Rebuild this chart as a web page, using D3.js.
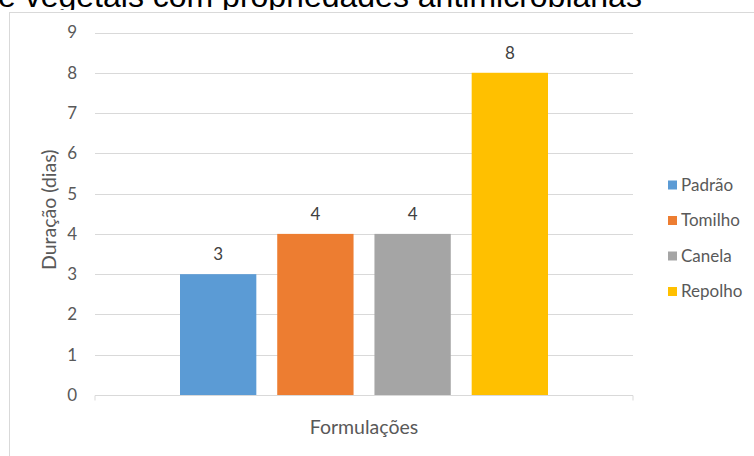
<!DOCTYPE html>
<html>
<head>
<meta charset="utf-8">
<script src="https://cdn.jsdelivr.net/npm/d3@7"></script>
<style>
  body { margin: 0; background: #fff; }
  text { font-family: Lato, "Open Sans", sans-serif; }
</style>
</head>
<body>
<div id="viz-area"></div>
<script>
// data
const CATEGORIES = ["Formulações"];
const SERIES     = ["Padrão", "Tomilho", "Canela", "Repolho"];
const VALUES     = [3, 4, 4, 8];
const COLORS     = ["#5B9BD5", "#ED7D31", "#A5A5A5", "#FFC000"];
const Y_TICKS    = [0, 1, 2, 3, 4, 5, 6, 7, 8, 9];

const W = 754, H = 456;
const PLOT = { LEFT: 95, RIGHT: 633, TOP: 32.5, BOTTOM: 395 };

const svg = d3.select("#viz-area").append("svg")
  .attr("width", W).attr("height", H);

// title above is cut by the picture edge
svg.append("clipPath").attr("id", "titleclip")
  .append("rect").attr("x", 0).attr("y", 0).attr("width", W).attr("height", 10);

svg.append("text")
  .text("e vegetais com propriedades antimicrobianas")
  .attr("x", -2).attr("y", 7)
  .attr("clip-path", "url(#titleclip)")
  .style("font-family", "'Liberation Sans', Arial, sans-serif")
  .style("font-size", "32px")
  .attr("fill", "#000");

// chart frame (runs past the right and bottom edge)
svg.append("rect")
  .attr("x", 9.5).attr("y", 12.5)
  .attr("width", 800).attr("height", 500)
  .attr("fill", "#fff").attr("stroke", "#d9d9d9");

const y = d3.scaleLinear().domain([0, 9]).range([PLOT.BOTTOM, PLOT.TOP]);
const x0 = d3.scaleBand().domain(CATEGORIES).range([PLOT.LEFT, PLOT.RIGHT]);
// group of 4 bars centred in the category
const groupW = 368;
const x1 = d3.scaleBand().domain(SERIES)
  .range([(PLOT.LEFT + PLOT.RIGHT) / 2 - groupW / 2, (PLOT.LEFT + PLOT.RIGHT) / 2 + groupW / 2])
  .paddingInner(0.215);

// gridlines
svg.append("g").selectAll("line")
  .data(Y_TICKS.filter(d => d > 0))
  .enter().append("line")
  .attr("x1", PLOT.LEFT).attr("x2", PLOT.RIGHT)
  .attr("y1", d => Math.round(y(d)) + 0.5).attr("y2", d => Math.round(y(d)) + 0.5)
  .attr("stroke", "#d9d9d9");

// y axis labels
svg.append("g").selectAll("text")
  .data(Y_TICKS)
  .enter().append("text")
  .text(d => d)
  .attr("x", 77).attr("y", d => y(d))
  .attr("dy", "0.35em")
  .attr("text-anchor", "end")
  .style("font-size", "17px")
  .attr("fill", "#595959");

// bars
svg.append("g").selectAll("rect")
  .data(VALUES)
  .enter().append("rect")
  .attr("x", (d, i) => x1(SERIES[i]))
  .attr("width", x1.bandwidth())
  .attr("y", d => y(d))
  .attr("height", d => y(0) - y(d))
  .attr("fill", (d, i) => COLORS[i]);

// value labels
svg.append("g").selectAll("text")
  .data(VALUES)
  .enter().append("text")
  .text(d => d)
  .attr("x", (d, i) => x1(SERIES[i]) + x1.bandwidth() / 2)
  .attr("y", d => y(d) - 20)
  .attr("dy", "0.35em")
  .attr("text-anchor", "middle")
  .style("font-size", "17px")
  .attr("fill", "#404040");

// x axis line with end ticks
const ax = Math.round(y(0)) + 0.5;
svg.append("path")
  .attr("d", `M${PLOT.LEFT},${ax + 5}V${ax}H${PLOT.RIGHT}V${ax + 5}`)
  .attr("fill", "none").attr("stroke", "#d9d9d9");

// axis titles
svg.append("text")
  .text("Formulações")
  .attr("x", x0(CATEGORIES[0]) + x0.bandwidth() / 2).attr("y", 427)
  .attr("dy", "0.35em")
  .attr("text-anchor", "middle")
  .style("font-size", "19.5px")
  .attr("fill", "#595959");

svg.append("text")
  .text("Duração (dias)")
  .attr("transform", `translate(49, ${(PLOT.TOP + PLOT.BOTTOM) / 2 - 4}) rotate(-90)`)
  .attr("dy", "0.35em")
  .attr("text-anchor", "middle")
  .style("font-size", "19.5px")
  .attr("fill", "#595959");

// legend
const legend = svg.append("g").selectAll("g")
  .data(SERIES)
  .enter().append("g")
  .attr("transform", (d, i) => `translate(668, ${185 + i * 35.5})`);
legend.append("rect")
  .attr("x", 0).attr("y", -4.5)
  .attr("width", 9).attr("height", 9)
  .attr("fill", (d, i) => COLORS[i]);
legend.append("text")
  .text(d => d)
  .attr("x", 13).attr("y", 0)
  .attr("dy", "0.35em")
  .style("font-size", "17px")
  .attr("fill", "#595959");
</script>
</body>
</html>
